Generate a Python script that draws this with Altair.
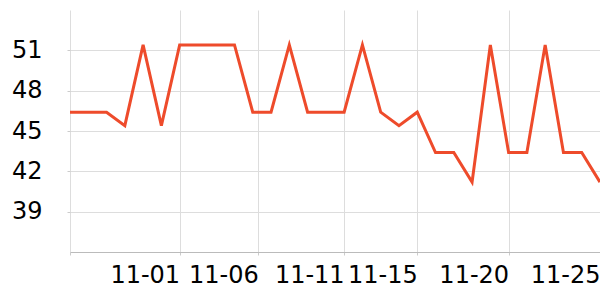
import altair as alt
import pandas as pd

# data
day_index = list(range(30))
values = [46.4, 46.4, 46.4, 45.4, 51.4, 45.4, 51.4, 51.4, 51.4, 51.4,
          46.4, 46.4, 51.4, 46.4, 46.4, 46.4, 51.4, 46.4, 45.4, 46.4,
          43.4, 43.4, 41.2, 51.4, 43.4, 43.4, 51.4, 43.4, 43.4, 41.2]
tick_positions = [0, 6, 10.3, 15, 19, 24, 29]
tick_labels = ["", "11-01", "11-06", "11-11", "11-15", "11-20", "11-25"]
y_ticks = [39, 42, 45, 48, 51]

df = pd.DataFrame({"day": day_index, "value": values})

expr = "''"
for v, lab in reversed(list(zip(tick_positions, tick_labels))):
    expr = f"datum.value == {v} ? '{lab}' : ({expr})"

FONT = "DejaVu Sans"

chart = alt.Chart(df).mark_line(color="#ee4b2b", strokeWidth=3, clip=False).encode(
    x=alt.X("day:Q",
            scale=alt.Scale(domain=[0, 29], nice=False, zero=False),
            axis=alt.Axis(values=tick_positions, labelExpr=expr, title=None,
                          labelAlign="right", labelFont=FONT, labelFontSize=24,
                          labelColor="#000", labelPadding=8, tickSize=3,
                          tickColor="#ccc", domainColor="#bbb", gridColor="#ddd",
                          labelFlush=False, labelOverlap=False,
                          gridOpacity={"condition": {"test": "datum.value == 29", "value": 0}, "value": 1},
                          tickOpacity={"condition": {"test": "datum.value == 29", "value": 0}, "value": 1})),
    y=alt.Y("value:Q",
            scale=alt.Scale(domain=[36, 54], nice=False, zero=False),
            axis=alt.Axis(values=y_ticks, title=None, domain=False,
                          labelFont=FONT, labelFontSize=24, labelColor="#000",
                          labelPadding=25, tickSize=3, tickColor="#ccc",
                          gridColor="#ddd")),
).properties(
    width=530, height=242,
    autosize=alt.AutoSizeParams(type="none"),
    padding={"left": 70, "top": 10, "right": 0, "bottom": 48},
).configure_view(stroke=None)

chart.save("out.html", embed_options={"renderer": "svg", "actions": False})
